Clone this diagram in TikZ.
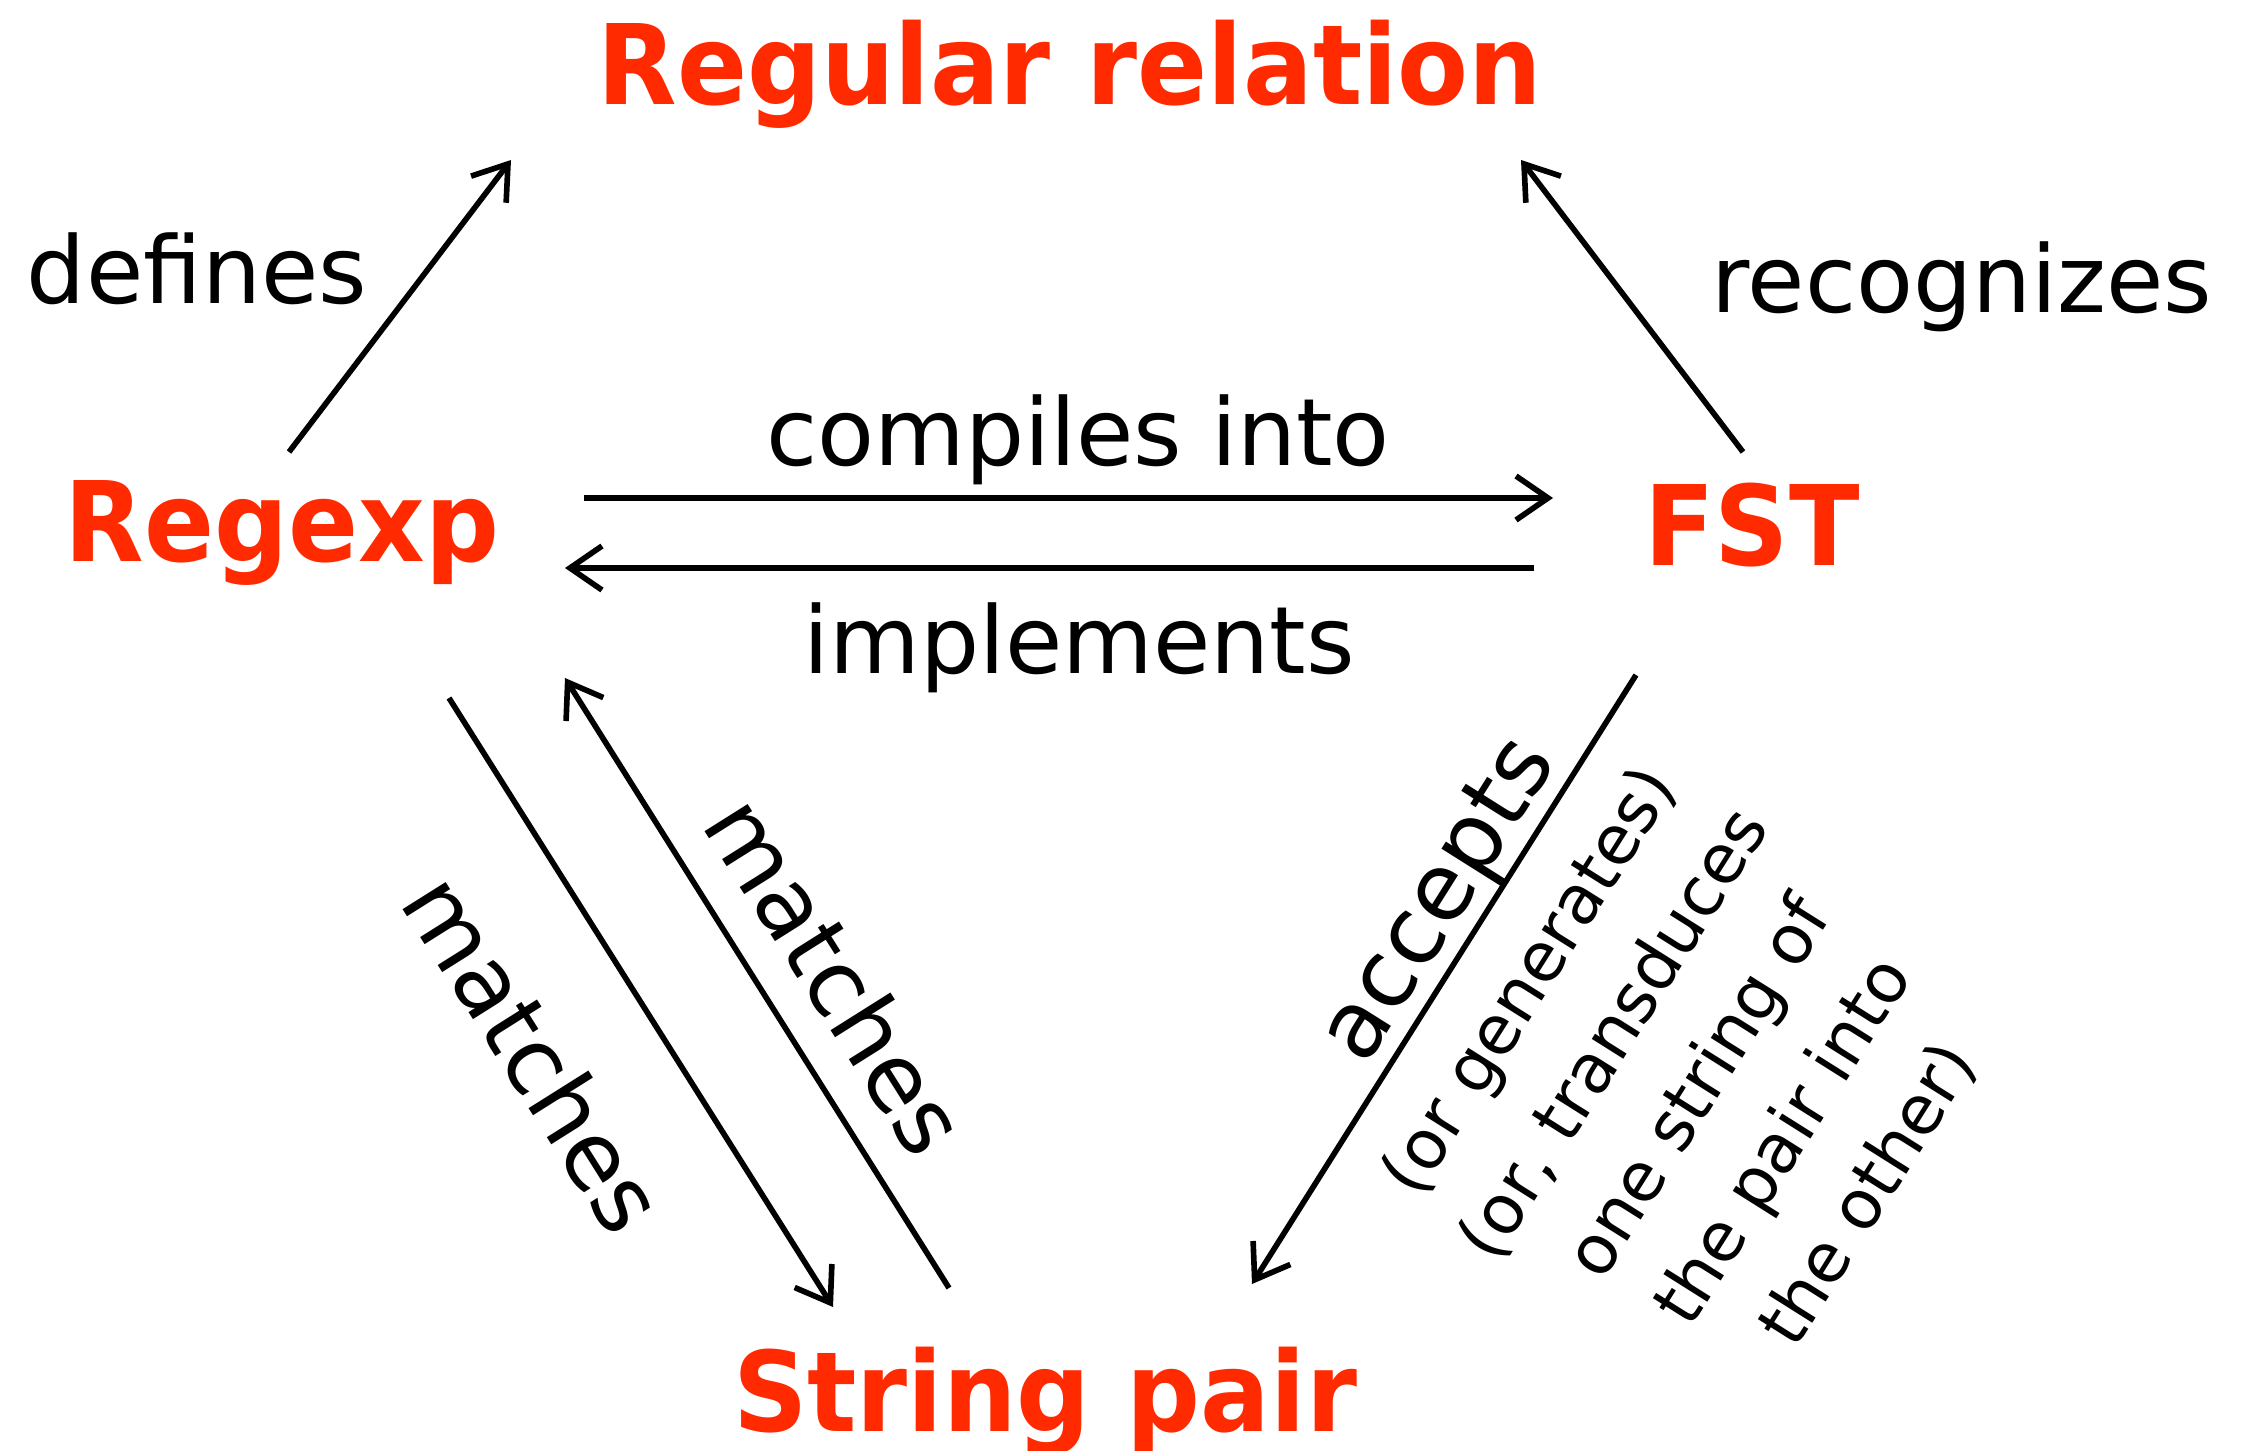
\documentclass[tikz,border=0pt]{standalone}
\usepackage{fontspec}
\setmainfont{DejaVu Sans}
\newfontfamily\relfont[FakeStretch=0.93]{DejaVu Sans Bold}
\usetikzlibrary{arrows.meta}
\definecolor{relred}{HTML}{FF2A00}

\begin{document}
\begin{tikzpicture}[x=0.01cm, y=-0.01cm, >={Straight Barb[length=0.32cm,width=0.44cm]},
    rel/.style={font={\relfont\fontsize{31.6pt}{36pt}\selectfont}, text=relred, inner sep=0pt, anchor=base},
    verb/.style={font={\fontsize{26.5pt}{30pt}\selectfont}, inner sep=0pt},
    note/.style={font={\fontsize{19.4pt}{28.5pt}\selectfont}, inner sep=0pt, align=center},
    link/.style={->, line width=1.6pt}]
    \useasboundingbox (0,0) rectangle (2244,1451);
    % the four corners of the triangle
    \node[rel] (relation) at (1070,104) {Regular relation};
    \node[rel] (regexp) at (282,561) {Regexp};
    \node[rel] (fst) at (1752,565) {FST};
    \node[rel] (pair) at (1045,1431) {String pair};
    % arrow ends
    \coordinate (defS) at (289,452);
    \coordinate (defE) at (511,160);
    \coordinate (recS) at (1743,452);
    \coordinate (recE) at (1521,160);
    \coordinate (cmpS) at (584,498);
    \coordinate (cmpE) at (1553,498);
    \coordinate (impS) at (1534,568);
    \coordinate (impE) at (565,568);
    \coordinate (mlS) at (449,698);
    \coordinate (mlE) at (833,1307);
    \coordinate (mrS) at (949,1288);
    \coordinate (mrE) at (565,678);
    \coordinate (accS) at (1636,675);
    \coordinate (accE) at (1252,1284);
    \draw[link] (defS) -- (defE);
    \draw[link] (recS) -- (recE);
    \draw[link] (cmpS) -- (cmpE);
    \draw[link] (impS) -- (impE);
    \draw[link] (mlS) -- (mlE);
    \draw[link] (mrS) -- (mrE);
    \draw[link] (accS) -- (accE);
    % labels
    \node[verb, anchor=base] (defines) at (197,303) {defines};
    \node[verb, anchor=base] (recognizes) at (1962,312) {recognizes};
    \node[verb, anchor=base] (compiles) at (1078,465) {compiles into};
    \node[verb, anchor=base] (implements) at (1079,673) {implements};
    \node[verb, rotate=-57.8] (matchL) at (535,1053) {matches};
    \node[verb, rotate=-57.8] (matchR) at (837,975) {matches};
    \node[verb, rotate=57.8] (accepts) at (1442,902) {accepts};
    \node[note, rotate=57.8] (orgen) at (1699,1088) {(or generates)\\(or, transduces\\one string of\\the pair into\\the other)};
\end{tikzpicture}
\end{document}
